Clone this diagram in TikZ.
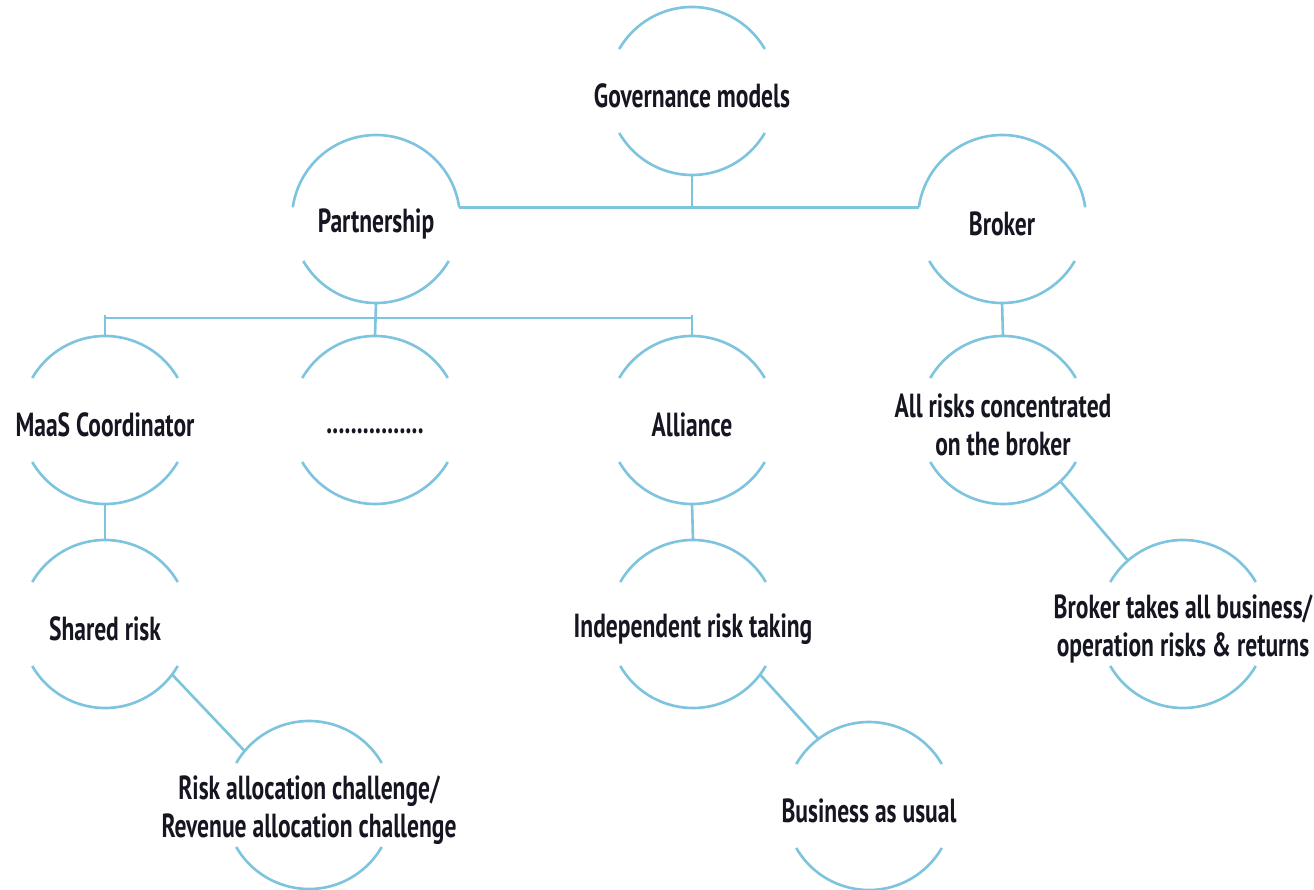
\documentclass[tikz,border=0pt]{standalone}
\usepackage{fontspec}
\setmainfont{PT Sans}[FakeStretch=0.705,UprightFont=* Bold]
\definecolor{ringblue}{RGB}{126,196,222}
\definecolor{inkdark}{RGB}{22,22,34}
\begin{document}
\begin{tikzpicture}[line join=round,
  ring/.style={circle,minimum size=1.68cm,inner sep=0pt,outer sep=0pt},
  txt/.style={font=\fontsize{9.5}{10.9}\selectfont,text=inkdark,align=center,inner sep=0pt,yshift=-0.5mm},
  link/.style={draw=ringblue,line width=0.75pt}]
\useasboundingbox (0,0) rectangle (13.14,-8.9);
% top levels
\node[ring,label={[txt]center:Governance models}] (gov) at (6.92,-0.91) {};
\node[ring,label={[txt]center:Partnership}] (part) at (3.76,-2.19) {};
\node[ring,label={[txt]center:Broker}] (brk) at (10.02,-2.19) {};
% partnership types
\node[ring,label={[txt]center:MaaS Coordinator}] (maas) at (1.05,-4.20) {};
\node[ring,label={[txt]center:\vphantom{Ag}................}] (dots) at (3.75,-4.20) {};
\node[ring,label={[txt]center:Alliance}] (ali) at (6.92,-4.20) {};
\node[ring,label={[txt]center:{All risks concentrated\\on the broker}}] (allr) at (10.03,-4.20) {};
% risk
\node[ring,label={[txt]center:Shared risk}] (shr) at (1.05,-6.24) {};
\node[ring,label={[txt]center:Independent risk taking}] (ind) at (6.93,-6.24) {};
\node[ring,label={[txt]center:{Broker takes all business/\\operation risks \& returns}}] (btk) at (11.83,-6.24) {};
% outcomes
\node[ring,label={[txt]center:{Risk allocation challenge/\\Revenue allocation challenge}}] (ra) at (3.09,-8.05) {};
\node[ring,label={[txt]center:Business as usual}] (bau) at (8.69,-8.06) {};

% open rings
\foreach \n in {gov,maas,dots,ali,allr,shr,ind,btk,ra,bau}
  \draw[link] (\n.30) arc[start angle=30,end angle=150,radius=0.84];
\foreach \n in {part,brk}
  \draw[link] (\n.8) arc[start angle=8,end angle=172,radius=0.84];
\foreach \n in {gov,part,brk,maas,dots,ali,allr,shr,ind,btk,ra,bau}
  \draw[link] (\n.210) arc[start angle=210,end angle=330,radius=0.84];

% connectors
\draw[link] (part.8) -- (brk.172) (gov.south) -- (gov.south |- brk.172);
\draw[link] (part.south) -- (dots.north);
\draw[link] (maas.north) -- ++(0,0.21) (ali.north) -- ++(0,0.21);
\draw[link] ([yshift=1.8mm]maas.north) -- ([yshift=1.8mm]ali.north);
\draw[link] (brk.south) -- (allr.north);
\draw[link] (maas.south) -- (shr.north);
\draw[link] (ali.south) -- (ind.north);
\draw[link] (shr.-37) -- (ra.140);
\draw[link] (ind.-37) -- (bau.127);
\draw[link] (allr.-47) -- (btk.131);
\end{tikzpicture}
\end{document}
